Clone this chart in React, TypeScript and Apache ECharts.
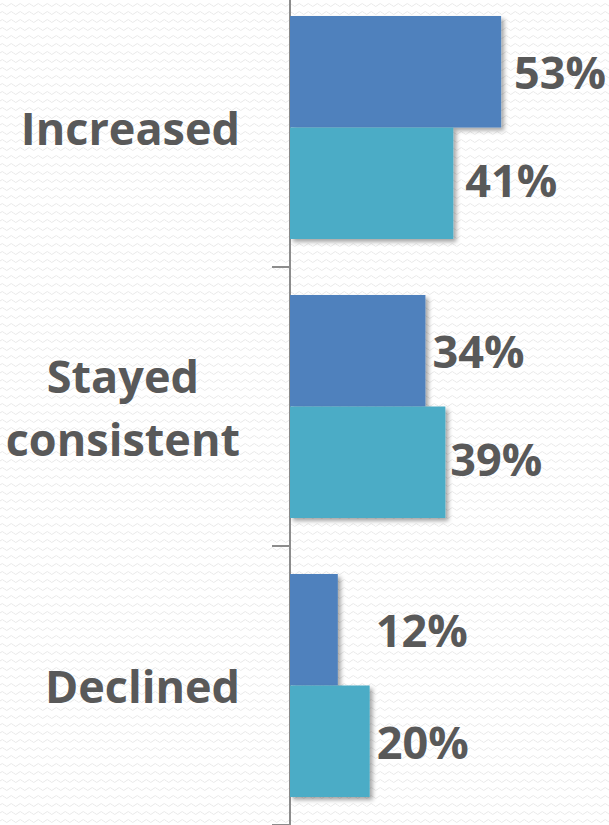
import React, { useEffect, useRef } from "react";
import * as echarts from "echarts";

const categories = ["Increased", "Stayed\nconsistent", "Declined"];
const seriesNames = ["Series A", "Series B"];
const seriesA = [53, 34, 12];
const seriesB = [41, 39, 20];
const axisMax = 60;

// per-label placement tweaks (distance from bar end, vertical offset)
const labelDistA = [13, 7, 38];
const labelDistB = [12, 5, 7];
const labelDyB = [-4, -4, 0];

const FONT = "'Open Sans', 'Noto Sans', sans-serif";
const TEXT_COLOR = "#595959";

const waveSvg =
  "<svg xmlns='http://www.w3.org/2000/svg' width='9' height='8'><path d='M0 5 Q2.25 2 4.5 5 T9 5' fill='none' stroke='#e9e9e9' stroke-width='1'/></svg>";

export default function App() {
  const ref = useRef<HTMLDivElement>(null);

  useEffect(() => {
    document.body.style.margin = "0";
    if (!ref.current) return;
    const chart = echarts.init(ref.current, undefined, { renderer: "svg" });

    const labelStyle = {
      show: true,
      position: "right" as const,
      distance: 12,
      formatter: "{c}%",
      fontSize: 45,
      fontWeight: "bold" as const,
      color: TEXT_COLOR,
      fontFamily: FONT,
    };
    const shadow = {
      shadowBlur: 4,
      shadowColor: "rgba(0,0,0,0.35)",
      shadowOffsetX: 3,
      shadowOffsetY: 3,
    };

    chart.setOption({
      animation: false,
      backgroundColor: "transparent",
      grid: { left: 290, right: 80, top: 0, bottom: 0, containLabel: false },
      xAxis: {
        type: "value",
        min: 0,
        max: axisMax,
        show: false,
        splitLine: { show: false },
      },
      yAxis: {
        type: "category",
        data: categories,
        inverse: true,
        axisLine: { show: true, lineStyle: { color: "#8c8c8c", width: 2 } },
        axisTick: {
          show: true,
          length: 18,
          lineStyle: { color: "#8c8c8c", width: 2 },
        },
        axisLabel: {
          margin: 50,
          formatter: (v: string) =>
            v
              .split("\n")
              .map((s) => `{c|${s}}`)
              .join("\n"),
          rich: {
            c: {
              align: "center",
              fontSize: 45,
              fontWeight: "bold",
              color: TEXT_COLOR,
              fontFamily: FONT,
              lineHeight: 63,
            },
          },
        },
      },
      series: [
        {
          type: "bar",
          name: seriesNames[0],
          data: seriesA.map((v, i) => ({
            value: v,
            label: { distance: labelDistA[i] },
          })),
          barGap: "0%",
          barCategoryGap: "20%",
          itemStyle: { color: "#4F81BD", ...shadow },
          label: labelStyle,
        },
        {
          type: "bar",
          name: seriesNames[1],
          data: seriesB.map((v, i) => ({
            value: v,
            label: { distance: labelDistB[i], offset: [0, labelDyB[i]] },
          })),
          barGap: "0%",
          barCategoryGap: "20%",
          itemStyle: { color: "#4BACC6", ...shadow },
          label: labelStyle,
        },
      ],
    });

    return () => chart.dispose();
  }, []);

  return (
    <div
      style={{
        position: "relative",
        width: 609,
        height: 825,
        overflow: "hidden",
        backgroundColor: "#ffffff",
        backgroundImage: `url("data:image/svg+xml;utf8,${encodeURIComponent(waveSvg)}")`,
        backgroundRepeat: "repeat",
      }}
    >
      <div
        ref={ref}
        style={{ position: "absolute", left: 0, top: -12, width: 609, height: 837 }}
      />
    </div>
  );
}
